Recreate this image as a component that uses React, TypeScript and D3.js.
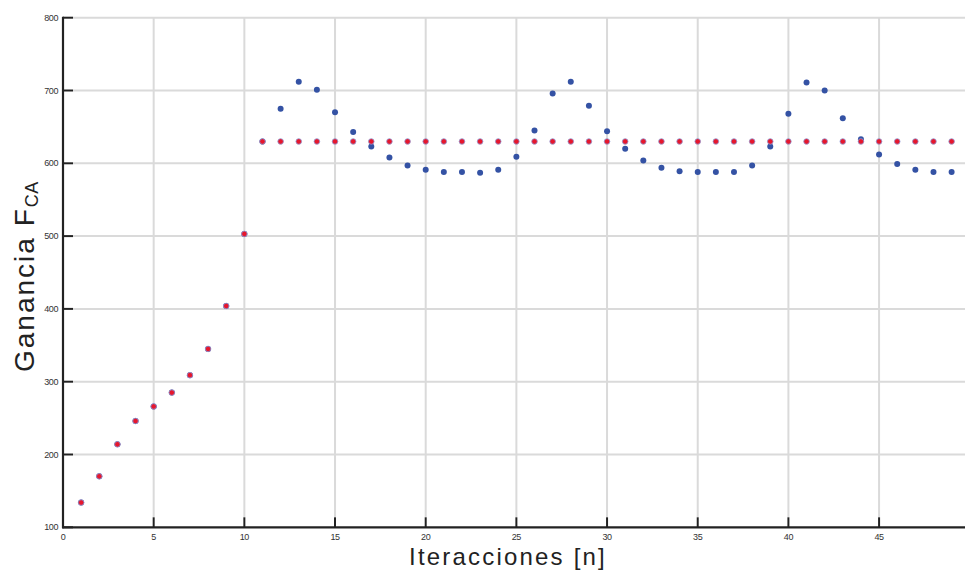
import React from "react";
import * as d3 from "d3";

const iterations: number[] = d3.range(1, 50);
const blueValues: number[] = [
  134, 170, 214, 246, 266, 285, 309, 345, 404, 503,
  630, 675, 712, 701, 670, 643, 623, 608, 597, 591,
  588, 588, 587, 591, 609, 645, 696, 712, 679, 644,
  620, 604, 594, 589, 588, 588, 588, 597, 623, 668,
  711, 700, 662, 633, 612, 599, 591, 588, 588,
];
const redValues: number[] = [
  134, 170, 214, 246, 266, 285, 309, 345, 404, 503,
  630, 630, 630, 630, 630, 630, 630, 630, 630, 630,
  630, 630, 630, 630, 630, 630, 630, 630, 630, 630,
  630, 630, 630, 630, 630, 630, 630, 630, 630, 630,
  630, 630, 630, 630, 630, 630, 630, 630, 630,
];
const xTicks: number[] = [0, 5, 10, 15, 20, 25, 30, 35, 40, 45];
const yTicks: number[] = [100, 200, 300, 400, 500, 600, 700, 800];

const W = 965;
const H = 570;
const left = 63;
const top = 17.7;
const bottom = 527.3;

export default function App() {
  const x = d3.scaleLinear().domain([0, 50]).range([left, left + 50 * 18.135]);
  const y = d3.scaleLinear().domain([100, 800]).range([bottom, top]);
  const font = "'Liberation Sans', Arial, Helvetica, sans-serif";
  return (
    <svg
      width={W}
      height={H}
      style={{ position: "absolute", left: 0, top: 0, background: "#fff" }}
    >
      {/* gridlines */}
      {xTicks.filter((t) => t > 0).map((t) => (
        <line key={"gx" + t} x1={x(t)} x2={x(t)} y1={top} y2={bottom - 10} stroke="#dadada" strokeWidth={2} />
      ))}
      {yTicks.filter((t) => t > 100).map((t) => (
        <line key={"gy" + t} x1={left + 10} x2={W} y1={y(t)} y2={y(t)} stroke="#dadada" strokeWidth={2} />
      ))}
      {/* axes */}
      <line x1={left} x2={left} y1={top - 1} y2={bottom + 1} stroke="#222" strokeWidth={2.2} />
      <line x1={left - 1} x2={W} y1={bottom} y2={bottom} stroke="#222" strokeWidth={2.2} />
      {yTicks.map((t) => (
        <g key={"yt" + t}>
          <line x1={left} x2={left + 10} y1={y(t)} y2={y(t)} stroke="#222" strokeWidth={2} />
          <text x={left - 5} y={y(t)} dy="0.35em" textAnchor="end" fontFamily={font} fontSize={9} fill="#333" letterSpacing={-0.4}>
            {t}
          </text>
        </g>
      ))}
      {xTicks.map((t) => (
        <g key={"xt" + t}>
          {t > 0 && <line x1={x(t)} x2={x(t)} y1={bottom} y2={bottom - 10} stroke="#222" strokeWidth={2} />}
          <text x={x(t)} y={bottom + 13} textAnchor="middle" fontFamily={font} fontSize={9} fill="#333" letterSpacing={-0.4}>
            {t}
          </text>
        </g>
      ))}
      {/* points */}
      {iterations.map((it, i) => (
        <circle key={"b" + it} cx={x(it)} cy={y(blueValues[i])} r={3} fill="#3452a4" />
      ))}
      {iterations.map((it, i) => (
        <circle key={"r" + it} cx={x(it)} cy={y(redValues[i])} r={2.8} fill="#e6172d" stroke="#8f9bd6" strokeWidth={0.8} />
      ))}
      {/* titles */}
      <text x={508} y={565} textAnchor="middle" fontFamily={font} fontSize={24} fill="#222" letterSpacing={2.2}>
        {"Iteracciones [n]"}
      </text>
      <text transform="rotate(-90)" x={-372} y={34} fontFamily={font} fontSize={28} fill="#222" letterSpacing={2}>
        Ganancia F
        <tspan fontSize={18} dy={4} letterSpacing={0.5}>CA</tspan>
      </text>
    </svg>
  );
}
